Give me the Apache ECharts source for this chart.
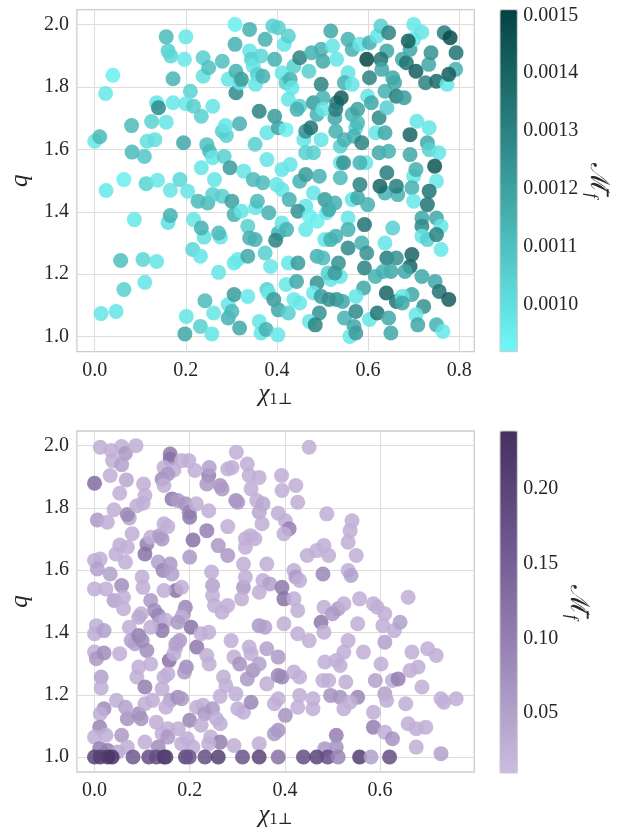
<!DOCTYPE html>
<html>
<head>
<meta charset="utf-8">
<script src="https://cdn.jsdelivr.net/npm/echarts@6/dist/echarts.min.js"></script>
<style>html,body{margin:0;padding:0;background:#fff}#c{width:621px;height:829px}</style>
</head>
<body>
<div id="c"></div>
<script>
// ---- data: [chi_perp, q, Mf] ----
const topPoints = [[0.0,1.626,0.00097],[0.011,1.64,0.00112],[0.04,1.837,0.00095],[0.024,1.779,0.00097],[0.025,1.468,0.00097],[0.064,1.503,0.00095],[0.014,1.074,0.00098],[0.047,1.081,0.00098],[0.057,1.244,0.0011],[0.064,1.151,0.00105],[0.087,1.375,0.00097],[0.081,1.676,0.00112],[0.082,1.591,0.00112],[0.109,1.577,0.00108],[0.106,1.247,0.00103],[0.11,1.174,0.00098],[0.136,1.241,0.00098],[0.125,1.689,0.00104],[0.115,1.626,0.001],[0.132,1.631,0.001],[0.136,1.749,0.00098],[0.14,1.733,0.00128],[0.113,1.49,0.00104],[0.138,1.501,0.00097],[0.157,1.687,0.00098],[0.157,1.96,0.00112],[0.161,1.915,0.00105],[0.167,1.899,0.00103],[0.172,1.826,0.00114],[0.172,1.749,0.00097],[0.166,1.469,0.00098],[0.161,1.366,0.001],[0.166,1.388,0.00115],[0.2,1.96,0.00097],[0.197,1.888,0.00097],[0.195,1.621,0.00118],[0.21,1.786,0.00104],[0.2,1.746,0.00097],[0.187,1.503,0.00103],[0.204,1.466,0.00098],[0.201,1.065,0.00098],[0.198,1.009,0.00118],[0.215,1.279,0.00103],[0.232,1.258,0.00098],[0.217,1.738,0.00105],[0.234,1.706,0.00105],[0.217,1.375,0.00098],[0.227,1.434,0.00112],[0.24,1.319,0.001],[0.234,1.348,0.00115],[0.248,1.428,0.00112],[0.238,1.893,0.00105],[0.238,1.834,0.001],[0.25,1.861,0.0011],[0.234,1.541,0.00098],[0.246,1.615,0.0011],[0.252,1.594,0.00112],[0.259,1.573,0.00098],[0.263,1.503,0.00098],[0.259,1.738,0.00098],[0.28,1.882,0.0011],[0.259,1.455,0.00105],[0.28,1.45,0.00105],[0.276,1.319,0.00098],[0.272,1.332,0.00112],[0.242,1.115,0.00112],[0.232,1.033,0.00105],[0.257,1.009,0.00098],[0.261,1.076,0.00098],[0.272,1.206,0.00098],[0.293,1.103,0.00098],[0.293,1.06,0.00115],[0.301,1.081,0.00112],[0.318,1.028,0.00118],[0.306,1.236,0.00098],[0.314,1.247,0.00097],[0.306,1.135,0.00122],[0.336,1.129,0.00097],[0.336,1.258,0.00118],[0.289,1.644,0.00105],[0.28,1.658,0.00105],[0.287,1.676,0.00098],[0.284,1.577,0.00105],[0.297,1.541,0.00122],[0.293,1.824,0.00098],[0.31,1.85,0.00115],[0.31,1.781,0.00128],[0.318,1.682,0.00115],[0.308,1.936,0.00115],[0.308,2.0,0.00095],[0.318,1.813,0.00098],[0.322,1.824,0.00122],[0.327,1.53,0.00098],[0.301,1.434,0.0012],[0.306,1.391,0.00115],[0.322,1.402,0.00098],[0.34,1.984,0.00115],[0.34,1.915,0.00098],[0.344,1.888,0.00105],[0.348,1.866,0.00098],[0.348,1.503,0.00112],[0.357,1.84,0.00105],[0.353,1.808,0.00098],[0.336,1.354,0.00105],[0.34,1.316,0.00115],[0.352,1.311,0.00115],[0.353,1.413,0.00098],[0.357,1.434,0.00112],[0.352,1.616,0.00105],[0.361,1.722,0.0013],[0.365,1.899,0.00103],[0.369,1.834,0.00115],[0.374,1.952,0.00115],[0.369,1.493,0.00112],[0.374,1.268,0.00105],[0.378,1.653,0.00098],[0.378,1.567,0.00098],[0.382,1.397,0.00115],[0.361,1.049,0.00098],[0.365,1.012,0.00098],[0.376,1.023,0.00115],[0.378,1.151,0.00105],[0.382,1.14,0.00097],[0.386,1.225,0.00097],[0.393,1.119,0.00122],[0.403,1.086,0.00118],[0.402,1.006,0.00097],[0.395,1.888,0.00115],[0.403,1.989,0.00105],[0.391,1.995,0.00105],[0.395,1.706,0.00122],[0.403,1.669,0.0012],[0.411,1.471,0.00098],[0.399,1.487,0.00098],[0.403,1.332,0.00115],[0.411,1.364,0.00098],[0.421,1.343,0.00115],[0.397,1.309,0.0013],[0.42,1.663,0.00095],[0.411,1.535,0.00098],[0.429,1.551,0.00098],[0.425,1.76,0.00098],[0.411,1.845,0.00098],[0.42,1.813,0.00105],[0.429,1.824,0.00115],[0.416,1.936,0.00098],[0.425,1.963,0.00105],[0.437,1.866,0.00105],[0.45,1.893,0.0013],[0.433,1.797,0.00098],[0.45,1.738,0.00105],[0.444,1.728,0.00115],[0.427,1.439,0.00115],[0.45,1.498,0.00115],[0.463,1.519,0.00122],[0.463,1.418,0.00098],[0.446,1.402,0.00125],[0.425,1.236,0.00097],[0.446,1.236,0.00122],[0.42,1.167,0.00097],[0.443,1.177,0.00118],[0.437,1.119,0.00097],[0.45,1.108,0.00097],[0.425,1.076,0.00105],[0.463,1.343,0.00097],[0.459,1.631,0.00098],[0.463,1.658,0.00125],[0.474,1.669,0.00135],[0.463,1.589,0.00105],[0.48,1.589,0.00105],[0.47,1.85,0.00105],[0.476,1.909,0.00115],[0.48,1.749,0.00122],[0.488,1.712,0.00115],[0.493,1.514,0.00115],[0.48,1.46,0.00098],[0.471,1.386,0.00095],[0.488,1.37,0.00095],[0.488,1.258,0.00115],[0.501,1.252,0.00112],[0.488,1.172,0.00125],[0.48,1.14,0.00097],[0.497,1.129,0.00122],[0.493,1.076,0.00125],[0.471,1.049,0.00098],[0.484,1.038,0.0013],[0.497,1.92,0.00115],[0.501,1.882,0.00118],[0.497,1.808,0.0013],[0.501,1.765,0.00115],[0.501,1.728,0.00098],[0.497,1.631,0.00098],[0.509,1.397,0.00097],[0.505,1.439,0.00122],[0.514,1.407,0.00118],[0.505,1.311,0.00098],[0.518,1.311,0.00115],[0.518,1.183,0.00098],[0.512,1.204,0.00105],[0.514,1.119,0.00125],[0.518,1.979,0.00118],[0.522,1.931,0.00098],[0.531,1.888,0.00098],[0.527,1.701,0.00118],[0.529,1.658,0.00115],[0.531,1.749,0.00132],[0.529,1.728,0.00132],[0.541,1.765,0.00142],[0.539,1.557,0.00098],[0.539,1.61,0.00105],[0.548,1.631,0.00115],[0.539,1.509,0.00112],[0.546,1.557,0.00125],[0.527,1.428,0.00115],[0.529,1.322,0.00115],[0.539,1.193,0.00098],[0.527,1.204,0.00122],[0.535,1.236,0.00125],[0.531,1.119,0.00125],[0.544,1.113,0.00118],[0.548,1.06,0.00115],[0.556,1.284,0.00128],[0.556,1.38,0.00098],[0.556,1.343,0.00115],[0.556,1.952,0.00115],[0.565,1.92,0.00115],[0.556,1.845,0.00098],[0.548,1.813,0.00115],[0.565,1.808,0.00098],[0.565,1.712,0.00115],[0.577,1.728,0.0012],[0.573,1.669,0.00105],[0.577,1.685,0.00112],[0.569,1.642,0.00115],[0.586,1.621,0.0013],[0.565,1.439,0.00098],[0.577,1.445,0.00118],[0.582,1.487,0.0013],[0.595,1.557,0.00098],[0.582,1.557,0.00115],[0.592,1.359,0.00135],[0.586,1.3,0.00115],[0.597,1.268,0.00125],[0.592,1.22,0.0013],[0.59,1.156,0.00118],[0.573,1.129,0.00098],[0.573,1.081,0.00128],[0.569,1.033,0.00118],[0.56,1.001,0.00097],[0.573,1.012,0.00122],[0.582,1.936,0.00098],[0.603,1.941,0.00115],[0.597,1.888,0.0015],[0.603,1.829,0.0013],[0.599,1.77,0.00098],[0.607,1.749,0.00118],[0.599,1.423,0.00115],[0.603,1.055,0.00098],[0.62,1.076,0.00135],[0.616,1.193,0.00115],[0.624,1.589,0.00118],[0.617,1.653,0.00098],[0.624,1.701,0.00128],[0.62,1.963,0.00098],[0.628,1.995,0.00105],[0.645,1.973,0.0013],[0.641,1.915,0.00118],[0.628,1.888,0.00135],[0.63,1.856,0.00118],[0.637,1.786,0.00115],[0.654,1.829,0.00118],[0.641,1.733,0.00105],[0.637,1.653,0.00118],[0.645,1.594,0.00115],[0.641,1.525,0.00132],[0.637,1.46,0.00115],[0.626,1.482,0.0014],[0.665,1.455,0.00115],[0.662,1.482,0.00132],[0.654,1.348,0.00105],[0.637,1.3,0.00098],[0.641,1.252,0.00132],[0.662,1.252,0.00125],[0.65,1.209,0.00118],[0.633,1.209,0.00115],[0.64,1.14,0.0014],[0.662,1.113,0.00135],[0.645,1.06,0.00118],[0.65,1.012,0.00118],[0.675,1.888,0.00118],[0.684,1.877,0.00135],[0.692,1.92,0.00118],[0.7,1.952,0.00097],[0.7,2.0,0.00097],[0.718,1.975,0.00098],[0.688,1.947,0.00142],[0.705,1.85,0.00142],[0.658,1.813,0.00118],[0.662,1.77,0.00132],[0.679,1.765,0.00122],[0.692,1.647,0.0014],[0.692,1.583,0.00118],[0.7,1.514,0.00098],[0.705,1.535,0.00115],[0.696,1.477,0.00115],[0.7,1.434,0.00097],[0.707,1.69,0.00098],[0.726,1.813,0.0013],[0.733,1.872,0.00118],[0.738,1.909,0.00125],[0.75,1.818,0.00138],[0.767,1.973,0.00132],[0.78,1.957,0.00148],[0.792,1.856,0.00115],[0.793,1.909,0.00135],[0.773,1.808,0.00097],[0.777,1.84,0.00142],[0.734,1.669,0.00098],[0.73,1.621,0.00118],[0.734,1.599,0.00105],[0.755,1.589,0.00098],[0.746,1.546,0.00145],[0.75,1.498,0.00097],[0.734,1.466,0.00135],[0.73,1.423,0.00135],[0.718,1.38,0.00118],[0.718,1.354,0.00128],[0.75,1.38,0.00118],[0.76,1.354,0.00098],[0.718,1.322,0.00098],[0.73,1.311,0.00105],[0.75,1.327,0.0013],[0.76,1.279,0.00097],[0.696,1.263,0.0014],[0.692,1.225,0.0014],[0.681,1.209,0.00118],[0.718,1.193,0.00118],[0.747,1.177,0.00118],[0.756,1.145,0.00135],[0.777,1.119,0.00142],[0.696,1.135,0.00118],[0.675,1.129,0.00098],[0.675,1.108,0.00118],[0.722,1.097,0.00125],[0.705,1.07,0.00097],[0.709,1.038,0.00118],[0.75,1.038,0.00115],[0.764,1.017,0.00097]];

const bottomPoints = [[0.012,1.995,0.03],[0.035,1.984,0.03],[0.057,1.997,0.03],[0.065,1.975,0.06],[0.087,2.0,0.03],[0.038,1.952,0.03],[0.057,1.939,0.05],[0.0,1.879,0.13],[0.033,1.904,0.03],[0.067,1.89,0.04],[0.103,1.877,0.03],[0.053,1.847,0.03],[0.106,1.84,0.03],[0.041,1.794,0.03],[0.073,1.768,0.04],[0.069,1.779,0.09],[0.006,1.761,0.06],[0.027,1.754,0.03],[0.089,1.807,0.03],[0.102,1.815,0.03],[0.079,1.717,0.03],[0.053,1.681,0.03],[0.045,1.652,0.03],[0.069,1.674,0.03],[0.065,1.626,0.03],[0.0,1.631,0.03],[0.012,1.636,0.03],[0.006,1.604,0.05],[0.033,1.588,0.05],[0.057,1.551,0.08],[0.0,1.54,0.03],[0.024,1.54,0.03],[0.041,1.503,0.05],[0.061,1.513,0.03],[0.061,1.476,0.03],[0.11,1.684,0.1],[0.106,1.652,0.12],[0.1,1.578,0.03],[0.102,1.545,0.03],[0.118,1.706,0.03],[0.137,1.711,0.06],[0.142,1.7,0.06],[0.146,1.749,0.03],[0.154,1.74,0.03],[0.134,1.626,0.05],[0.144,1.599,0.09],[0.159,1.62,0.06],[0.163,1.588,0.05],[0.171,1.535,0.12],[0.146,1.535,0.03],[0.118,1.503,0.06],[0.126,1.471,0.08],[0.134,1.455,0.09],[0.138,1.433,0.05],[0.15,1.439,0.03],[0.142,1.406,0.11],[0.118,1.417,0.03],[0.098,1.46,0.03],[0.093,1.449,0.04],[0.159,1.973,0.11],[0.159,1.957,0.12],[0.146,1.93,0.03],[0.167,1.922,0.03],[0.142,1.893,0.08],[0.154,1.909,0.06],[0.146,1.872,0.03],[0.198,1.952,0.03],[0.183,1.952,0.03],[0.163,1.829,0.11],[0.175,1.824,0.06],[0.191,1.813,0.07],[0.199,1.786,0.09],[0.2,1.77,0.11],[0.214,1.813,0.03],[0.207,1.697,0.12],[0.2,1.642,0.06],[0.183,1.545,0.03],[0.191,1.481,0.09],[0.187,1.46,0.06],[0.183,1.449,0.03],[0.203,1.417,0.12],[0.179,1.374,0.06],[0.171,1.353,0.03],[0.215,1.353,0.11],[0.211,1.92,0.03],[0.24,1.904,0.1],[0.236,1.877,0.06],[0.241,1.93,0.05],[0.264,1.872,0.07],[0.268,1.861,0.06],[0.28,1.925,0.03],[0.289,1.93,0.03],[0.298,1.979,0.03],[0.24,1.791,0.03],[0.236,1.727,0.1],[0.26,1.679,0.06],[0.28,1.74,0.03],[0.28,1.647,0.06],[0.297,1.824,0.08],[0.301,1.818,0.06],[0.246,1.594,0.03],[0.248,1.551,0.05],[0.248,1.519,0.03],[0.252,1.487,0.03],[0.224,1.396,0.03],[0.24,1.401,0.03],[0.236,1.326,0.03],[0.241,1.299,0.03],[0.268,1.465,0.03],[0.28,1.487,0.03],[0.287,1.374,0.03],[0.271,1.257,0.03],[0.276,1.23,0.03],[0.264,1.195,0.03],[0.293,1.321,0.03],[0.305,1.299,0.07],[0.297,1.203,0.03],[0.301,1.155,0.03],[0.313,1.144,0.03],[0.293,1.037,0.03],[0.313,1.62,0.03],[0.313,1.545,0.06],[0.317,1.578,0.03],[0.309,1.508,0.03],[0.317,1.701,0.03],[0.328,1.711,0.03],[0.317,1.674,0.03],[0.337,1.701,0.03],[0.321,1.941,0.03],[0.325,1.904,0.03],[0.346,1.898,0.03],[0.329,1.861,0.03],[0.341,1.824,0.03],[0.346,1.786,0.04],[0.354,1.813,0.04],[0.352,1.749,0.03],[0.362,1.62,0.03],[0.354,1.567,0.03],[0.368,1.556,0.05],[0.346,1.529,0.03],[0.346,1.422,0.06],[0.358,1.417,0.05],[0.325,1.353,0.03],[0.329,1.332,0.03],[0.333,1.278,0.07],[0.321,1.251,0.06],[0.329,1.176,0.09],[0.362,1.348,0.05],[0.346,1.299,0.05],[0.362,1.235,0.03],[0.386,1.321,0.06],[0.386,1.262,0.09],[0.394,1.257,0.09],[0.386,1.187,0.03],[0.378,1.171,0.03],[0.401,1.134,0.07],[0.386,1.086,0.07],[0.378,1.075,0.06],[0.346,1.043,0.03],[0.393,1.904,0.03],[0.394,1.856,0.03],[0.386,1.783,0.03],[0.401,1.759,0.03],[0.409,1.733,0.1],[0.398,1.717,0.03],[0.423,1.872,0.03],[0.427,1.818,0.03],[0.394,1.545,0.11],[0.398,1.508,0.12],[0.419,1.508,0.03],[0.419,1.599,0.03],[0.423,1.578,0.06],[0.431,1.567,0.03],[0.427,1.471,0.03],[0.398,1.428,0.03],[0.427,1.396,0.03],[0.451,1.374,0.03],[0.419,1.273,0.03],[0.431,1.257,0.03],[0.431,1.198,0.03],[0.459,1.187,0.03],[0.427,1.16,0.03],[0.459,1.155,0.03],[0.451,1.995,0.03],[0.447,1.647,0.03],[0.467,1.663,0.03],[0.482,1.679,0.03],[0.492,1.647,0.03],[0.488,1.781,0.03],[0.48,1.588,0.09],[0.482,1.481,0.03],[0.476,1.433,0.11],[0.482,1.401,0.03],[0.5,1.46,0.06],[0.512,1.476,0.06],[0.524,1.492,0.03],[0.537,1.727,0.03],[0.541,1.759,0.03],[0.533,1.69,0.03],[0.55,1.647,0.03],[0.533,1.599,0.03],[0.539,1.583,0.05],[0.557,1.508,0.03],[0.553,1.428,0.03],[0.533,1.374,0.03],[0.524,1.337,0.03],[0.508,1.31,0.03],[0.484,1.305,0.03],[0.516,1.294,0.03],[0.48,1.246,0.03],[0.492,1.246,0.03],[0.496,1.198,0.07],[0.516,1.192,0.07],[0.528,1.241,0.03],[0.524,1.155,0.03],[0.553,1.192,0.09],[0.537,1.176,0.03],[0.508,1.07,0.1],[0.508,1.032,0.07],[0.484,1.027,0.06],[0.565,1.337,0.03],[0.586,1.492,0.03],[0.594,1.481,0.03],[0.606,1.422,0.03],[0.61,1.46,0.03],[0.63,1.406,0.03],[0.642,1.433,0.05],[0.61,1.369,0.05],[0.602,1.299,0.03],[0.59,1.246,0.05],[0.61,1.203,0.05],[0.626,1.246,0.03],[0.638,1.251,0.1],[0.614,1.182,0.03],[0.586,1.144,0.03],[0.586,1.096,0.1],[0.61,1.08,0.03],[0.626,1.059,0.07],[0.654,1.171,0.03],[0.659,1.513,0.03],[0.667,1.337,0.03],[0.663,1.278,0.03],[0.68,1.289,0.03],[0.688,1.225,0.03],[0.659,1.107,0.03],[0.676,1.091,0.03],[0.696,1.096,0.03],[0.676,1.032,0.03],[0.7,1.348,0.03],[0.718,1.326,0.03],[0.728,1.187,0.03],[0.734,1.176,0.03],[0.76,1.187,0.03],[0.728,1.011,0.05],[0.0,1.396,0.03],[0.004,1.422,0.03],[0.02,1.406,0.05],[0.0,1.337,0.03],[0.004,1.316,0.06],[0.02,1.334,0.08],[0.014,1.257,0.05],[0.014,1.222,0.03],[0.02,1.155,0.08],[0.012,1.139,0.03],[0.011,1.096,0.09],[0.0,1.064,0.03],[0.024,1.07,0.03],[0.053,1.332,0.03],[0.046,1.182,0.03],[0.057,1.07,0.06],[0.069,1.123,0.07],[0.065,1.16,0.05],[0.073,1.417,0.03],[0.077,1.374,0.05],[0.085,1.364,0.05],[0.093,1.39,0.1],[0.1,1.374,0.08],[0.11,1.342,0.08],[0.093,1.289,0.03],[0.089,1.257,0.03],[0.106,1.225,0.1],[0.093,1.139,0.08],[0.098,1.123,0.07],[0.106,1.171,0.03],[0.106,1.048,0.03],[0.118,1.299,0.03],[0.122,1.182,0.03],[0.13,1.112,0.03],[0.142,1.075,0.03],[0.157,1.31,0.12],[0.146,1.257,0.03],[0.154,1.267,0.03],[0.142,1.219,0.03],[0.159,1.182,0.05],[0.175,1.192,0.08],[0.183,1.187,0.06],[0.15,1.16,0.03],[0.154,1.091,0.03],[0.154,1.064,0.06],[0.176,1.091,0.03],[0.175,1.433,0.06],[0.167,1.332,0.03],[0.171,1.364,0.05],[0.193,1.289,0.08],[0.189,1.273,0.06],[0.2,1.118,0.09],[0.195,1.059,0.03],[0.215,1.16,0.03],[0.228,1.166,0.03],[0.232,1.139,0.06],[0.224,1.102,0.03],[0.248,1.155,0.06],[0.256,1.123,0.03],[0.264,1.107,0.03],[0.244,1.064,0.03],[0.264,1.048,0.1],[0.24,1.043,0.03],[0.207,1.032,0.03],[0.134,1.032,0.08],[0.183,1.043,0.03],[0.028,1.021,0.1],[0.049,1.016,0.04],[0.069,1.032,0.03],[0.011,1.027,0.1],
[0.0,1.0,0.2],[0.012,1.0,0.21],[0.028,1.0,0.22],[0.037,1.0,0.23],[0.081,1.0,0.16],[0.114,1.0,0.18],[0.13,1.0,0.18],[0.146,1.0,0.22],[0.15,1.0,0.21],[0.191,1.0,0.2],[0.199,1.0,0.17],[0.232,1.0,0.18],[0.26,1.0,0.21],[0.311,1.0,0.17],[0.346,1.0,0.2],[0.386,1.0,0.12],[0.439,1.0,0.18],[0.467,1.0,0.2],[0.49,1.0,0.18],[0.512,1.0,0.09],[0.557,1.0,0.21],[0.581,1.0,0.05],[0.62,1.0,0.18]];

// ---- ticks and ranges ----
const xTicksTop = [0.0, 0.2, 0.4, 0.6, 0.8];
const xTicksBottom = [0.0, 0.2, 0.4, 0.6];
const qTicks = [1.0, 1.2, 1.4, 1.6, 1.8, 2.0];
const cbTicksTop = [0.0010, 0.0011, 0.0012, 0.0013, 0.0014, 0.0015];
const cbTicksBottom = [0.05, 0.10, 0.15, 0.20];
const xRangeTop = [-0.039, 0.833];
const xRangeBottom = [-0.037, 0.798];
const qRange = [0.952, 2.047];
const cbRangeTop = [0.000918, 0.00151];
const cbRangeBottom = [0.0098, 0.239];
const colorsTop = ['#6ff8f8', '#054242'];
const colorsBottom = ['#cbbbe1', '#9c88b7', '#6f5790', '#45305f'];

const FONT = '"Liberation Serif", "DejaVu Serif", serif';
const TXT = '#262626';
const G = [
  {left: 67.3, top: 9.7, width: 407, height: 342},
  {left: 500, top: 9.7, width: 17.3, height: 342},
  {left: 67.3, top: 431, width: 407, height: 342},
  {left: 500, top: 431, width: 17.3, height: 342}
];

function mainX(gi, ticks, range) {
  return {
    gridIndex: gi, type: 'value', min: range[0], max: range[1],
    axisLine: {show: false},
    axisTick: {show: false, customValues: ticks},
    axisLabel: {customValues: ticks, formatter: v => v.toFixed(1), margin: 9, color: TXT, fontSize: 20, fontFamily: FONT},
    splitLine: {show: true, lineStyle: {color: '#dddddd', width: 1}},
    name: '{c|χ}{s|1⊥}', nameLocation: 'middle', nameGap: 30,
    nameTextStyle: {color: TXT, rich: {
      c: {fontSize: 25, fontFamily: FONT, fontStyle: 'italic', color: TXT},
      s: {fontSize: 16, fontFamily: FONT, color: TXT, padding: [10, 0, 0, 0]}
    }}
  };
}
function mainY(gi) {
  return {
    gridIndex: gi, type: 'value', min: qRange[0], max: qRange[1],
    axisLine: {show: false},
    axisTick: {show: false, customValues: qTicks},
    axisLabel: {customValues: qTicks, formatter: v => v.toFixed(1), margin: 8, color: TXT, fontSize: 20, fontFamily: FONT},
    splitLine: {show: true, lineStyle: {color: '#dddddd', width: 1}},
    name: 'q', nameLocation: 'middle', nameGap: 34,
    nameTextStyle: {color: TXT, fontSize: 25, fontFamily: FONT, fontStyle: 'italic'}
  };
}
function cbY(gi, ticks, range, digits, gap) {
  return {
    gridIndex: gi, type: 'value', position: 'right', min: range[0], max: range[1],
    axisLine: {show: false},
    axisTick: {show: true, length: 4, customValues: ticks, lineStyle: {color: '#333', width: 1}},
    axisLabel: {customValues: ticks, formatter: v => v.toFixed(digits), margin: 6, color: TXT, fontSize: 20, fontFamily: FONT},
    splitLine: {show: false},
    name: '{m|ℳ\u0304}{s|f}', nameLocation: 'middle', nameRotate: -90, nameGap: gap,
    nameTextStyle: {color: TXT, rich: {
      m: {fontSize: 26, fontFamily: '"DejaVu Serif", serif', color: TXT},
      s: {fontSize: 17, fontFamily: FONT, fontStyle: 'italic', color: TXT, padding: [12, 0, 0, 0]}
    }}
  };
}

const chart = echarts.init(document.getElementById('c'), null, {renderer: 'canvas'});
chart.setOption({
  animation: false,
  backgroundColor: '#ffffff',
  grid: G.map((g, i) => Object.assign({show: true, borderColor: i % 2 ? '#c8c8c8' : '#cccccc', borderWidth: i % 2 ? 1 : 1.3, backgroundColor: 'transparent', z: i % 2 ? 10 : 0}, g)),
  xAxis: [
    mainX(0, xTicksTop, xRangeTop),
    {gridIndex: 1, type: 'value', show: false, min: 0, max: 1},
    mainX(2, xTicksBottom, xRangeBottom),
    {gridIndex: 3, type: 'value', show: false, min: 0, max: 1}
  ],
  yAxis: [
    mainY(0),
    cbY(1, cbTicksTop, cbRangeTop, 4, 66),
    mainY(2),
    cbY(3, cbTicksBottom, cbRangeBottom, 2, 46)
  ],
  visualMap: [
    {type: 'continuous', seriesIndex: 0, dimension: 2, min: cbRangeTop[0], max: cbRangeTop[1],
     inRange: {color: colorsTop}, left: G[1].left, top: G[1].top, itemWidth: G[1].width, itemHeight: G[1].height,
     padding: 0, calculable: false, text: null, hoverLink: false, textStyle: {color: 'rgba(0,0,0,0)', fontSize: 1}},
    {type: 'continuous', seriesIndex: 1, dimension: 2, min: cbRangeBottom[0], max: cbRangeBottom[1],
     inRange: {color: colorsBottom}, left: G[3].left, top: G[3].top, itemWidth: G[3].width, itemHeight: G[3].height,
     padding: 0, calculable: false, text: null, hoverLink: false, textStyle: {color: 'rgba(0,0,0,0)', fontSize: 1}}
  ],
  series: [
    {type: 'scatter', xAxisIndex: 0, yAxisIndex: 0, data: topPoints, symbolSize: 15, itemStyle: {opacity: 0.85}},
    {type: 'scatter', xAxisIndex: 2, yAxisIndex: 2, data: bottomPoints, symbolSize: 15, itemStyle: {opacity: 0.85}}
  ]
});
</script>
</body>
</html>
